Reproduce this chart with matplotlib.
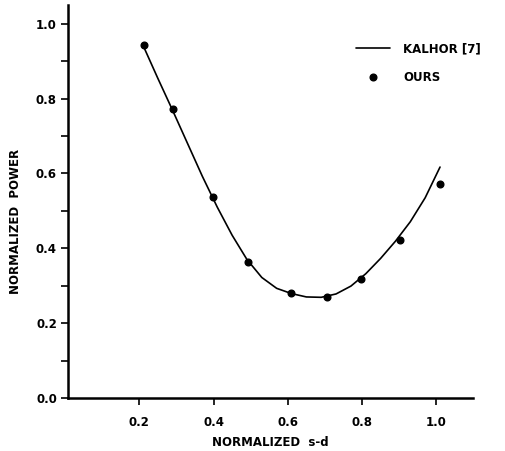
import matplotlib
matplotlib.use("Agg")
import matplotlib.pyplot as plt
from matplotlib.ticker import MultipleLocator, FixedLocator

plt.rcParams['font.family'] = ['DejaVu Sans']
plt.rcParams['font.weight'] = 'bold'

# Kalhor [7] curve
kalhor_x = [0.212, 0.25, 0.29, 0.33, 0.37, 0.41, 0.45, 0.49, 0.53, 0.57, 0.61,
            0.65, 0.69, 0.73, 0.77, 0.81, 0.85, 0.89, 0.93, 0.97, 1.01]
kalhor_y = [0.938, 0.854, 0.768, 0.680, 0.592, 0.510, 0.435, 0.370, 0.322, 0.293, 0.279,
            0.270, 0.269, 0.278, 0.299, 0.332, 0.373, 0.419, 0.471, 0.535, 0.617]

# Our points
ours_x = [0.212, 0.291, 0.399, 0.494, 0.609, 0.706, 0.797, 0.903, 1.010]
ours_y = [0.943, 0.772, 0.536, 0.364, 0.281, 0.271, 0.318, 0.421, 0.571]

xticks = [0.2, 0.4, 0.6, 0.8, 1.0]
xticklabels = ["0.2", "0.4", "0.6", "0.8", "1.0"]
yticks = [0.0, 0.2, 0.4, 0.6, 0.8, 1.0]
yticklabels = ["0.0", "0.2", "0.4", "0.6", "0.8", "1.0"]

fs = 8.5

fig = plt.figure(figsize=(5.05, 4.51), dpi=100)
ax = fig.add_axes([68/505, 1 - 398/451, (472.7-68)/505, (398-5)/451])

ax.plot(kalhor_x, kalhor_y, color='black', lw=1.2, label='KALHOR [7]',
        solid_joinstyle='round', solid_capstyle='round')
ax.plot(ours_x, ours_y, 'o', color='black', ms=4.8, label='OURS')

ax.set_xlim(0.008, 1.098)
ax.set_ylim(0.0, 1.05)

ax.spines['top'].set_visible(False)
ax.spines['right'].set_visible(False)
ax.spines['left'].set_linewidth(1.8)
ax.spines['bottom'].set_linewidth(1.8)

ax.xaxis.set_major_locator(FixedLocator(xticks))
ax.set_xticklabels(xticklabels)
ax.yaxis.set_major_locator(FixedLocator(yticks))
ax.set_yticklabels(yticklabels)
ax.yaxis.set_minor_locator(MultipleLocator(0.1))

ax.tick_params(axis='x', which='major', direction='out', length=5, width=1.2, pad=8, labelsize=fs)
ax.tick_params(axis='y', which='major', direction='out', length=5, width=1.2, pad=3, labelsize=fs)
ax.tick_params(axis='y', which='minor', direction='out', length=5, width=1.2)

for lab in ax.get_xticklabels() + ax.get_yticklabels():
    lab.set_fontweight('bold')

ax.set_xlabel('NORMALIZED  s-d', fontsize=fs, fontweight='bold')
ax.xaxis.set_label_coords(0.5, -0.097)
ax.set_ylabel('NORMALIZED  POWER', fontsize=fs, fontweight='bold')
ax.yaxis.set_label_coords(-0.114, 0.448)

leg = ax.legend(loc='upper left', bbox_to_anchor=(0.711, 0.905), frameon=False,
                fontsize=fs, handlelength=2.9, handletextpad=1.1, labelspacing=1.35,
                borderaxespad=0, borderpad=0)
for t in leg.get_texts():
    t.set_fontweight('bold')

fig.savefig('out.png', dpi=100)
